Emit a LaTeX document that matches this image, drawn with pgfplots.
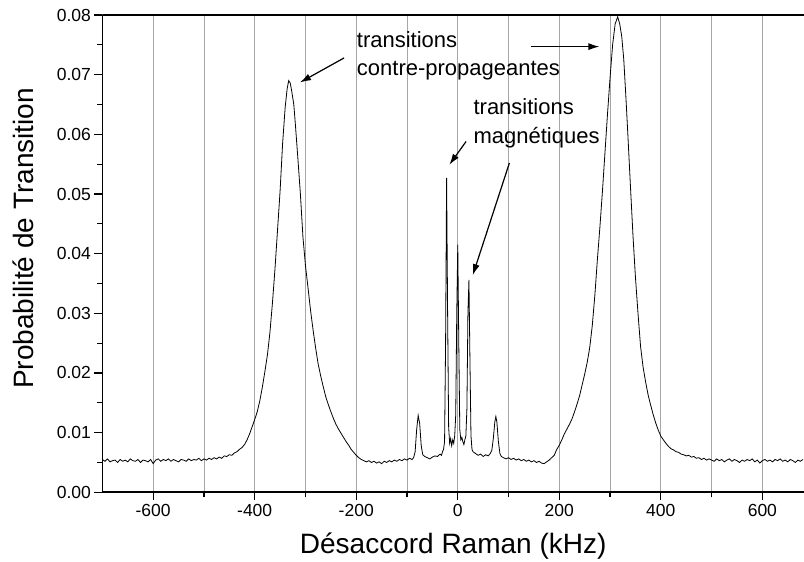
\documentclass[border=0pt]{standalone}
\usepackage{fontspec}
\setmainfont{Liberation Sans}
\usepackage{pgfplots}
\pgfplotsset{compat=1.18}
\usetikzlibrary{arrows.meta}
\begin{document}
\begin{tikzpicture}
\begin{axis}[
  scale only axis,
  width=701.6pt, height=477.3pt,
  xmin=-700, xmax=682, ymin=0, ymax=0.08,
  axis x line*=bottom, axis y line*=left,
  axis line style={line width=1.6pt, black},
  xtick={-600,-400,-200,0,200,400,600},
  minor x tick num=1,
  ytick={0,0.01,0.02,0.03,0.04,0.05,0.06,0.07,0.08},
  minor y tick num=1,
  tick align=outside,
  major tick length=8pt, minor tick length=5pt,
  tick style={line width=1.2pt, black},
  xmajorgrids, xminorgrids,
  major grid style={draw=black!35, line width=0.8pt},
  minor grid style={draw=black!35, line width=0.8pt},
  scaled y ticks=false,
  /pgf/number format/assume math mode=true,
  tick label style={font=\fontsize{17.5}{20}\selectfont},
  yticklabel style={/pgf/number format/.cd, fixed, fixed zerofill, precision=2},
  xlabel={Désaccord Raman (kHz)},
  ylabel={Probabilité de Transition},
  label style={font=\fontsize{28}{32}\selectfont},
  xlabel style={at={(axis description cs:0.5,-0.128)}, anchor=base, inner sep=0pt},
  ylabel style={at={(axis description cs:-0.0982,0.532)}, anchor=base, inner sep=0pt},
]
\addplot[black, line width=0.8pt] coordinates {
(-700,0.0055)(-695,0.0052)(-690,0.0056)(-685,0.0051)(-680,0.0053)(-675,0.0054)(-670,0.0050)(-665,0.0055)(-660,0.0052)(-655,0.0054)
(-650,0.0051)(-645,0.0056)(-640,0.0053)(-635,0.0052)(-630,0.0055)(-625,0.0050)(-620,0.0054)(-615,0.0053)(-610,0.0051)(-605,0.0055)
(-600,0.0048)(-595,0.0054)(-590,0.0056)(-585,0.0052)(-580,0.0055)(-575,0.0053)(-570,0.0056)(-565,0.0052)(-560,0.0055)(-555,0.0053)
(-550,0.0051)(-545,0.0055)(-540,0.0054)(-535,0.0052)(-530,0.0056)(-525,0.0053)(-520,0.0055)(-515,0.0054)(-510,0.0057)(-505,0.0053)
(-500,0.0056)(-495,0.0054)(-490,0.0057)(-485,0.0055)(-480,0.0058)(-475,0.0056)(-470,0.0059)(-465,0.0057)(-460,0.0061)(-455,0.0060)
(-450,0.0063)(-445,0.0062)(-440,0.0066)(-435,0.0068)(-430,0.0072)(-425,0.0075)(-420,0.0080)(-415,0.0088)(-410,0.0098)(-405,0.0110)
(-400,0.0122)(-395,0.0135)(-390,0.0153)(-385,0.0176)(-380,0.0202)(-375,0.0230)(-370,0.0268)(-365,0.0318)(-360,0.0375)(-355,0.0440)
(-350,0.0505)(-345,0.0585)(-340,0.0645)(-336,0.0677)(-333,0.0690)(-330,0.0686)(-327,0.0672)(-323,0.0650)(-320,0.0618)(-315,0.0560)
(-310,0.0500)(-305,0.0428)(-300,0.0380)(-295,0.0343)(-290,0.0305)(-285,0.0272)(-280,0.0242)(-275,0.0215)(-270,0.0195)(-265,0.0177)
(-260,0.0160)(-255,0.0147)(-250,0.0135)(-245,0.0124)(-240,0.0114)(-235,0.0106)(-230,0.0099)(-225,0.0092)(-220,0.0085)(-215,0.0079)
(-210,0.0072)(-205,0.0067)(-200,0.0062)(-195,0.0058)(-190,0.0055)(-185,0.0053)(-180,0.0051)(-175,0.0053)(-170,0.0050)(-165,0.0052)
(-160,0.0049)(-155,0.0051)(-150,0.0048)(-145,0.0052)(-140,0.0050)(-135,0.0053)(-130,0.0051)(-125,0.0054)(-120,0.0052)(-115,0.0055)
(-110,0.0053)(-105,0.0056)(-100,0.0054)(-95,0.0057)(-90,0.0055)(-87,0.0058)(-84,0.0068)(-81,0.0105)(-78,0.0129)(-75,0.0115)
(-72,0.0078)(-69,0.0063)(-65,0.0060)(-60,0.0058)(-55,0.0056)(-50,0.0059)(-45,0.0061)(-40,0.0060)(-35,0.0064)(-32,0.0062)
(-30,0.0068)(-28,0.0072)(-26,0.0085)(-24,0.0250)(-22,0.0527)(-20,0.0300)(-18,0.0110)(-16,0.0082)(-14,0.0090)(-12,0.0078)
(-10,0.0088)(-8,0.0082)(-6,0.0095)(-4,0.0130)(-2,0.0300)(0,0.0415)(2,0.0250)(4,0.0105)(6,0.0088)(8,0.0092)
(10,0.0085)(12,0.0080)(14,0.0088)(16,0.0095)(18,0.0140)(20,0.0300)(22,0.0356)(24,0.0220)(26,0.0095)(28,0.0072)
(30,0.0068)(35,0.0065)(40,0.0062)(45,0.0064)(50,0.0060)(55,0.0063)(60,0.0061)(64,0.0065)(67,0.0070)(70,0.0090)
(73,0.0118)(75,0.0127)(77,0.0118)(80,0.0085)(83,0.0065)(86,0.0060)(90,0.0058)(95,0.0056)(100,0.0058)(105,0.0055)
(110,0.0057)(115,0.0054)(120,0.0056)(125,0.0053)(130,0.0055)(135,0.0052)(140,0.0054)(145,0.0051)(150,0.0053)(155,0.0050)
(160,0.0052)(165,0.0049)(170,0.0048)(175,0.0051)(180,0.0054)(185,0.0058)(190,0.0062)(195,0.0072)(200,0.0079)(205,0.0088)
(210,0.0098)(215,0.0106)(220,0.0114)(225,0.0123)(230,0.0135)(235,0.0148)(240,0.0162)(245,0.0180)(250,0.0198)(255,0.0218)
(260,0.0243)(265,0.0280)(270,0.0330)(275,0.0390)(280,0.0445)(285,0.0505)(290,0.0570)(295,0.0635)(300,0.0695)(305,0.0750)
(310,0.0785)(315,0.0797)(319,0.0785)(323,0.0764)(327,0.0725)(331,0.0665)(335,0.0600)(340,0.0515)(345,0.0432)(350,0.0360)
(355,0.0300)(360,0.0245)(365,0.0210)(370,0.0185)(375,0.0163)(380,0.0146)(385,0.0130)(390,0.0116)(395,0.0104)(400,0.0094)
(405,0.0088)(410,0.0082)(415,0.0077)(420,0.0073)(425,0.0071)(430,0.0068)(435,0.0067)(440,0.0064)(445,0.0063)(450,0.0061)
(455,0.0062)(460,0.0059)(465,0.0060)(470,0.0057)(475,0.0058)(480,0.0055)(485,0.0057)(490,0.0054)(495,0.0056)(500,0.0054)
(505,0.0052)(510,0.0056)(515,0.0053)(520,0.0055)(525,0.0051)(530,0.0054)(535,0.0056)(540,0.0052)(545,0.0055)(550,0.0053)
(555,0.0050)(560,0.0054)(565,0.0052)(570,0.0055)(575,0.0053)(580,0.0056)(585,0.0051)(590,0.0054)(595,0.0049)(600,0.0053)
(605,0.0055)(610,0.0052)(615,0.0054)(620,0.0051)(625,0.0055)(630,0.0053)(635,0.0056)(640,0.0052)(645,0.0054)(650,0.0051)
(655,0.0055)(660,0.0053)(665,0.0050)(670,0.0054)(675,0.0052)(680,0.0055)
};
\draw[line width=1.6pt, black] (rel axis cs:0,1) -- (rel axis cs:1,1);
\draw[line width=1.2pt, -{Latex[length=11pt,width=7pt]}] (axis cs:-224,0.0728) -- (axis cs:-310.7,0.0687);
\draw[line width=1.2pt, -{Latex[length=11pt,width=7pt]}] (axis cs:143.8,0.0747) -- (axis cs:279,0.0747);
\draw[line width=1.2pt, -{Latex[length=11pt,width=7pt]}] (axis cs:16.4,0.0588) -- (axis cs:-16.6,0.0549);
\draw[line width=1.2pt, -{Latex[length=11pt,width=7pt]}] (axis cs:101.7,0.0552) -- (axis cs:29.6,0.0364);
\node[anchor=base west, inner sep=0pt, font=\fontsize{22}{27}\selectfont] at (axis cs:-199,0.0745) {transitions};
\node[anchor=base west, inner sep=0pt, font=\fontsize{22}{27}\selectfont] at (axis cs:-199,0.0698) {contre-propageantes};
\node[anchor=base west, inner sep=0pt, font=\fontsize{22}{27}\selectfont] at (axis cs:30.7,0.0633) {transitions};
\node[anchor=base west, inner sep=0pt, font=\fontsize{22}{27}\selectfont] at (axis cs:30.7,0.0585) {magnétiques};
\end{axis}
\pgfresetboundingbox
\useasboundingbox ([xshift=-102.4pt,yshift=-69.7pt]current axis.south west) rectangle ([yshift=15pt]current axis.north east);
\end{tikzpicture}
\end{document}
